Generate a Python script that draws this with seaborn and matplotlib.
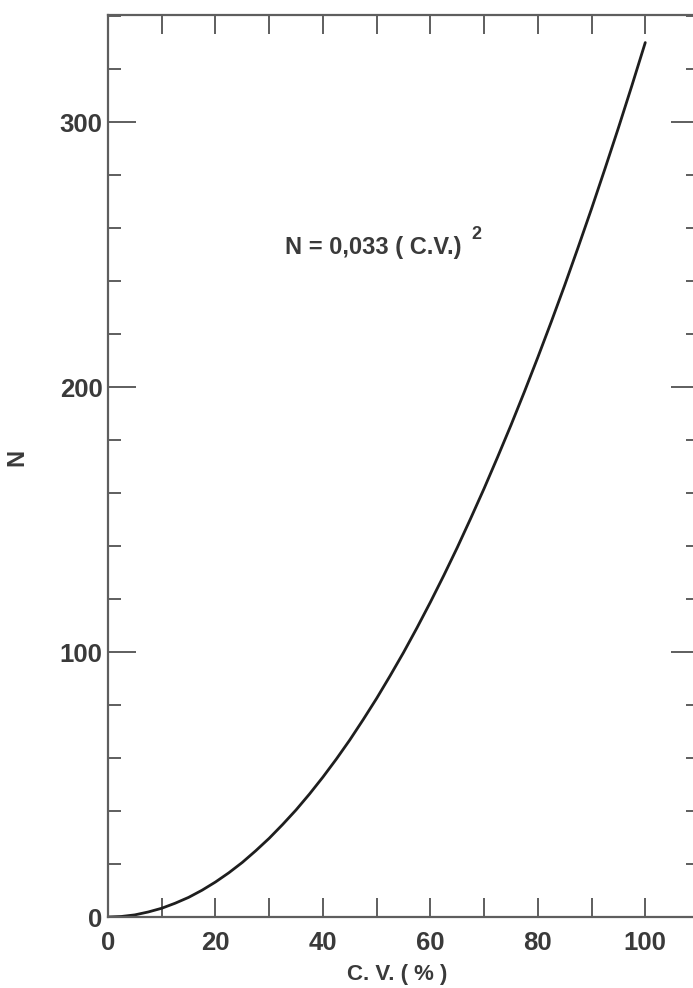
import matplotlib
matplotlib.use("Agg")
import matplotlib.pyplot as plt
import seaborn as sns
import pandas as pd
from matplotlib.ticker import MultipleLocator, FixedLocator

# Required sample size N against coefficient of variation C.V. (%)
cv_percent = [0, 2.5, 5, 7.5, 10, 12.5, 15, 17.5, 20, 22.5, 25, 27.5, 30,
              32.5, 35, 37.5, 40, 42.5, 45, 47.5, 50, 52.5, 55, 57.5, 60,
              62.5, 65, 67.5, 70, 72.5, 75, 77.5, 80, 82.5, 85, 87.5, 90,
              92.5, 95, 97.5, 100]
n_required = [0.0, 0.2, 0.8, 1.9, 3.3, 5.2, 7.4, 10.1, 13.2, 16.7, 20.6,
              25.0, 29.7, 34.9, 40.4, 46.4, 52.8, 59.6, 66.8, 74.5, 82.5,
              91.0, 99.8, 109.1, 118.8, 128.9, 139.4, 150.4, 161.7, 173.5,
              185.6, 198.2, 211.2, 224.6, 238.4, 252.7, 267.3, 282.4, 297.8,
              313.7, 330.0]

x_tick_labels = ["0", "20", "40", "60", "80", "100"]
y_tick_labels = ["0", "100", "200", "300"]
formula_text = "N = 0,033 ( C.V.)"
x_title = "C. V. ( % )"
y_title = "N"

df = pd.DataFrame({"cv": cv_percent, "n": n_required})

sns.set_style("white")
plt.rcParams["font.family"] = ["Liberation Sans", "DejaVu Sans"]

ink = "#3a3a3a"
frame = "#5e5e5e"

fig = plt.figure(figsize=(6.93, 9.88), dpi=100)
ax = fig.add_axes([108 / 693, 71 / 988, 591 / 693, 902 / 988])

sns.lineplot(data=df, x="cv", y="n", ax=ax, color="#1e1e1e", linewidth=2.0)

ax.set_xlim(0, 110)
ax.set_ylim(0, 340.4)

for s in ax.spines.values():
    s.set_color(frame)
    s.set_linewidth(1.6)
    s.set_visible(True)

ax.xaxis.set_major_locator(FixedLocator([0, 20, 40, 60, 80, 100]))
ax.set_xticklabels(x_tick_labels)
ax.xaxis.set_minor_locator(FixedLocator([10, 30, 50, 70, 90]))
ax.yaxis.set_major_locator(FixedLocator([0, 100, 200, 300]))
ax.set_yticklabels(y_tick_labels)
ax.yaxis.set_minor_locator(MultipleLocator(20))

ax.tick_params(axis="x", which="both", direction="in", top=True, bottom=True,
               length=14, width=1.4, color=frame, pad=10,
               labelsize=18.5, labelcolor=ink)
ax.tick_params(axis="y", which="major", direction="in", left=True, right=True,
               length=20, width=1.4, color=frame, pad=4,
               labelsize=18.5, labelcolor=ink)
ax.tick_params(axis="y", which="minor", direction="in", left=True, right=True,
               length=9.5, width=1.4, color=frame)
for lab in ax.get_xticklabels() + ax.get_yticklabels():
    lab.set_fontweight("bold")

ax.set_xlabel(x_title, fontsize=16, fontweight="bold", color=ink)
ax.xaxis.set_label_coords(0.49, -0.052)
ax.set_ylabel(y_title, fontsize=17, fontweight="bold", color=ink)
ax.yaxis.set_label_coords(-0.135, 0.51)

ax.text(33, 252.5, formula_text, fontsize=17, fontweight="bold", color=ink,
        ha="left", va="center")
ax.text(67.6, 257.5, "2", fontsize=13, fontweight="bold", color=ink,
        ha="left", va="center")

fig.savefig("out.png", dpi=100)
